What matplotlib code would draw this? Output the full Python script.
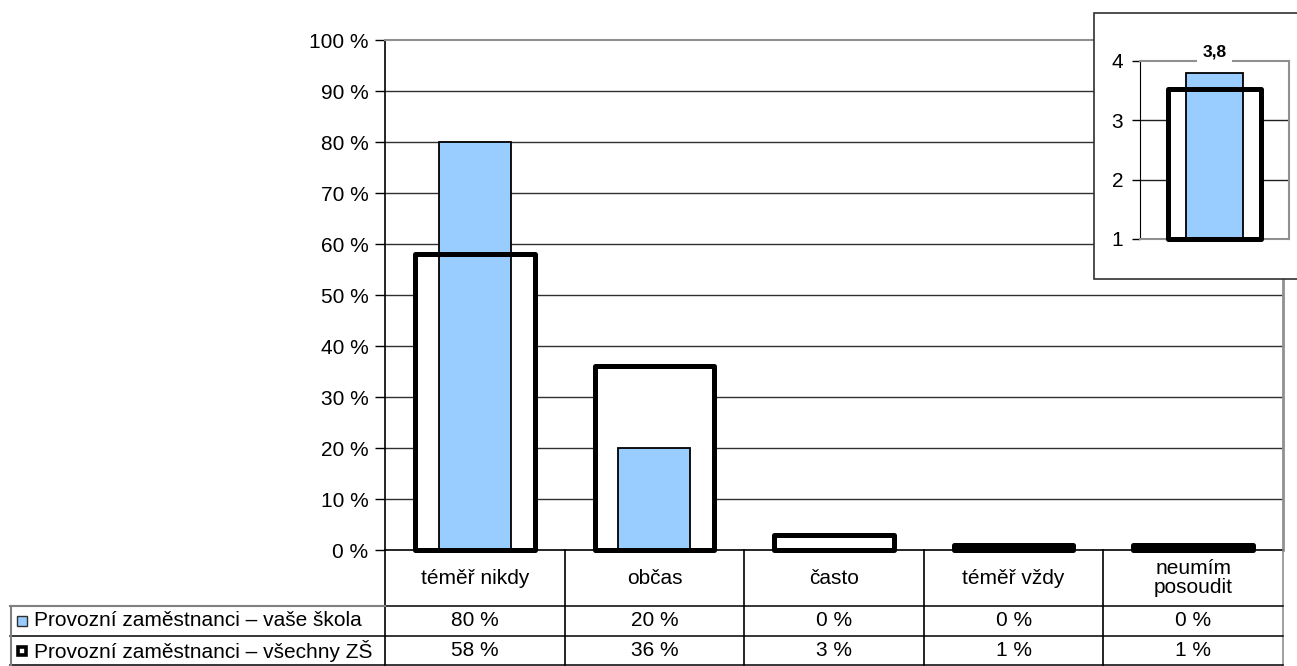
import matplotlib
matplotlib.use("Agg")
import matplotlib.pyplot as plt
from matplotlib.patches import Rectangle
from matplotlib.lines import Line2D
from matplotlib.transforms import blended_transform_factory

plt.rcParams['font.family'] = ['Liberation Sans', 'DejaVu Sans']

categories = ["téměř nikdy", "občas", "často", "téměř vždy", "neumím\nposoudit"]
school = [80, 20, 0, 0, 0]
all_zs = [58, 36, 3, 1, 1]
series_names = ["Provozní zaměstnanci – vaše škola", "Provozní zaměstnanci – všechny ZŠ"]
yticks = [0, 10, 20, 30, 40, 50, 60, 70, 80, 90, 100]
inset_school = 3.8
inset_all = 3.53
inset_ticks = [1, 2, 3, 4]

W, H = 1297, 666
BLUE = "#99CCFF"
FS = 15

fig = plt.figure(figsize=(W / 100, H / 100), dpi=100)

def fx(x):
    return x / W

def fy(y):
    return 1 - y / H

# ---- main axes ----
ax = fig.add_axes([fx(385), fy(550), (1283 - 385) / W, (550 - 40) / H])
x = list(range(len(categories)))
ax.set_xlim(-0.5, len(categories) - 0.5)
ax.set_ylim(0, 100)
ax.set_yticks(yticks)
ax.set_yticklabels([f"{t} %" for t in yticks], fontsize=FS)
ax.set_xticks([])
ax.tick_params(axis='y', length=7, width=1, direction='out', pad=5, color='black')
for t in yticks[1:-1]:
    ax.axhline(t, color='#303030', lw=1.0, zorder=0.5)
ax.spines['left'].set_color('black')
ax.spines['left'].set_linewidth(1.2)
ax.spines['bottom'].set_color('black')
ax.spines['bottom'].set_linewidth(1.2)
ax.spines['top'].set_color('#909090')
ax.spines['top'].set_linewidth(1.5)
ax.spines['right'].set_color('#909090')
ax.spines['right'].set_linewidth(2)

ow, bw = 0.665, 0.40
ax.bar(x, all_zs, width=ow, color='white', edgecolor='none', zorder=1)
ax.bar(x, school, width=bw, color=BLUE, edgecolor='black', linewidth=1.3, zorder=2)
ax.bar(x, all_zs, width=ow, color='none', edgecolor='black', linewidth=3.6,
       joinstyle='round', zorder=3, clip_on=False)

# ---- table ----
tr = blended_transform_factory(ax.transData, fig.transFigure)
y_top, y_r1, y_r2, y_bot = 550, 606, 636, 665
edges = [i - 0.5 for i in range(len(categories) + 1)]
for i, e in enumerate(edges):
    col = '#909090' if i == len(edges) - 1 else 'black'
    fig.add_artist(Line2D([e, e], [fy(y_top), fy(y_bot)], transform=tr, color=col, lw=1.2))
for yy in [y_r1, y_r2, y_bot]:
    fig.add_artist(Line2D([fx(10), fx(1283)], [fy(yy), fy(yy)], color='black', lw=1.1))
fig.add_artist(Line2D([fx(10), fx(385)], [fy(y_r1), fy(y_r1)], color='#808080', lw=1.5))
fig.add_artist(Line2D([fx(10.5), fx(10.5)], [fy(y_r1), fy(y_bot)], color='#808080', lw=1.5))

for i, c in enumerate(categories):
    fig.text(0, fy((y_top + y_r1) / 2), c, transform=tr, ha='center', va='center',
             fontsize=FS, linespacing=1.0).set_x(i)
    fig.text(0, fy((y_r1 + y_r2) / 2), f"{school[i]} %", transform=tr,
             ha='center', va='center', fontsize=FS).set_x(i)
    fig.text(0, fy((y_r2 + y_bot) / 2), f"{all_zs[i]} %", transform=tr,
             ha='center', va='center', fontsize=FS).set_x(i)

# row headers with legend keys
for k, (name, yy) in enumerate(zip(series_names, [(y_r1 + y_r2) / 2, (y_r2 + y_bot) / 2])):
    if k == 0:
        fig.add_artist(Rectangle((fx(16.5), fy(yy + 5)), 10 / W, 10 / H, facecolor=BLUE,
                                 edgecolor='#303030', lw=1.0))
    else:
        fig.add_artist(Rectangle((fx(17.5), fy(yy + 4)), 8 / W, 8 / H, facecolor='white',
                                 edgecolor='black', lw=2.6))
    fig.text(fx(34), fy(yy), name, ha='left', va='center', fontsize=FS)

# ---- inset ----
fig.add_artist(Rectangle((fx(1094), fy(279)), (1310 - 1094) / W, (279 - 13) / H,
                         facecolor='white', edgecolor='#303030', lw=1.2, zorder=5))
iax = fig.add_axes([fx(1140), fy(239), (1289 - 1140) / W, (239 - 61) / H], zorder=6)
iax.patch.set_alpha(0)
iax.set_xlim(-0.5, 0.5)
iax.set_ylim(1, 4)
iax.set_yticks(inset_ticks)
iax.set_yticklabels([str(t) for t in inset_ticks], fontsize=FS)
iax.set_xticks([])
iax.tick_params(axis='y', length=6, width=1, pad=6)
for t in inset_ticks[1:-1]:
    iax.axhline(t, color='#202020', lw=1.0, zorder=0.5)
iax.spines['left'].set_color('black')
for s in ['top', 'right', 'bottom']:
    iax.spines[s].set_color('#909090')
    iax.spines[s].set_linewidth(1.5)
iax.bar([0], [inset_all - 1], bottom=1, width=0.63, color='white', edgecolor='none', zorder=1)
iax.bar([0], [inset_school - 1], bottom=1, width=0.38, color=BLUE, edgecolor='black',
        linewidth=1.3, zorder=2)
iax.bar([0], [inset_all - 1], bottom=1, width=0.63, color='none', edgecolor='black',
        linewidth=3.6, joinstyle='round', zorder=3, clip_on=False)
iax.text(0, 4.03, f"{inset_school:.1f}".replace('.', ','), ha='center', va='bottom',
         fontsize=12.5, fontweight='bold', zorder=7,
         bbox=dict(facecolor='white', edgecolor='none', pad=4))

fig.savefig("out.png", dpi=100)
